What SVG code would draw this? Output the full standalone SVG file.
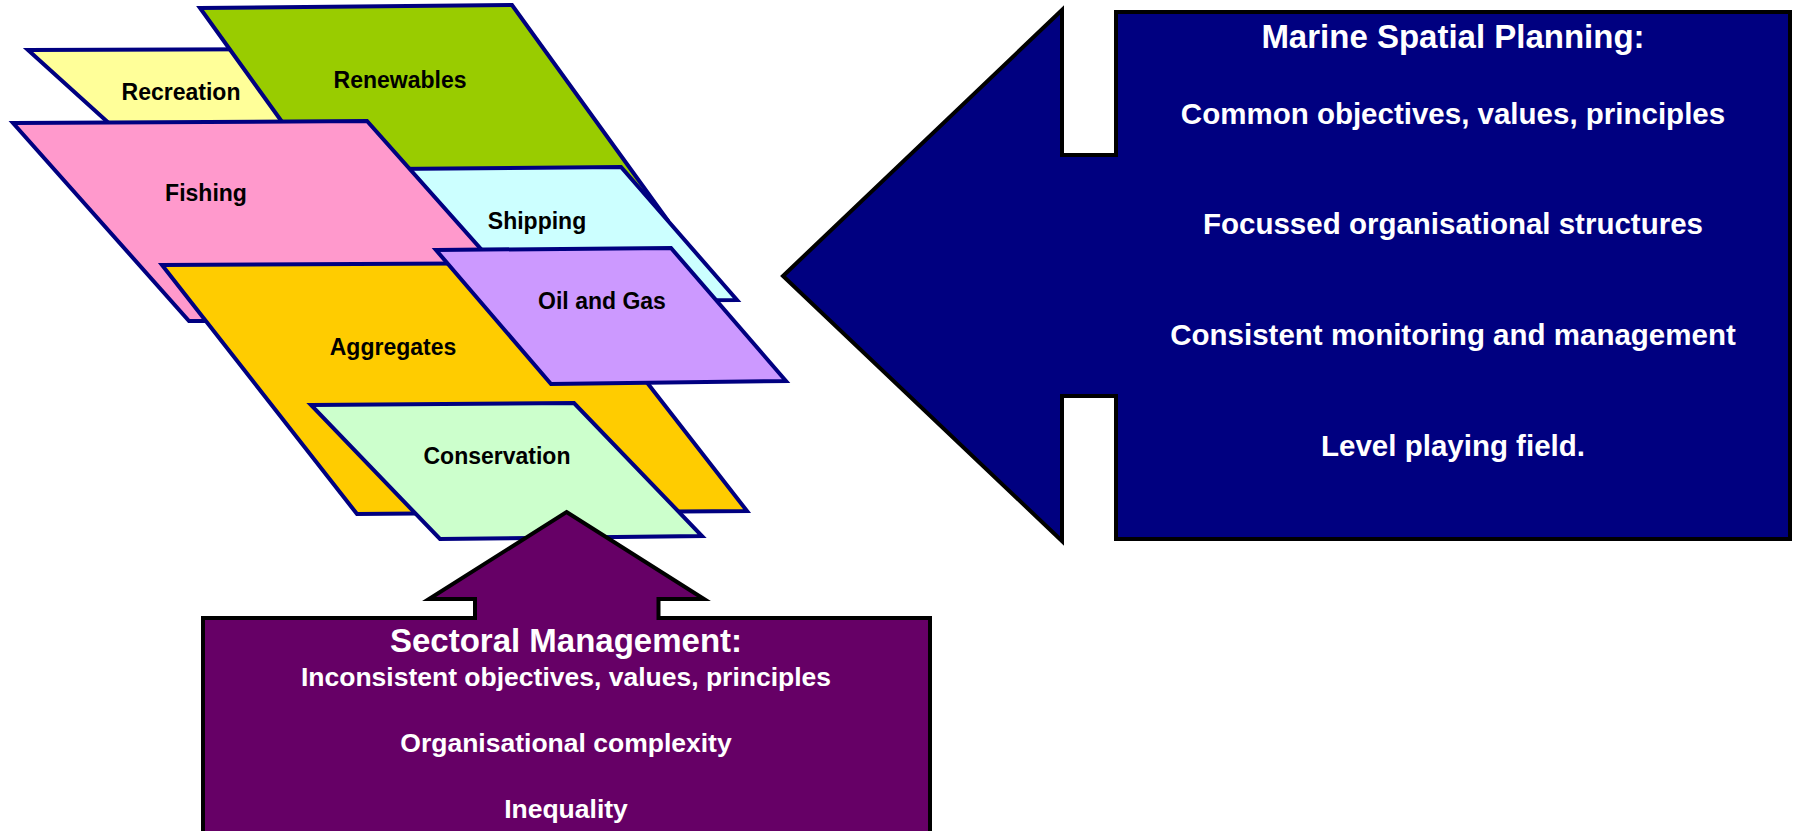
<svg xmlns="http://www.w3.org/2000/svg" width="1795" height="831" viewBox="0 0 1795 831">
<style>
.p{stroke:#000080;stroke-width:4;stroke-linejoin:miter}
.a{stroke:#000000;stroke-width:4;stroke-linejoin:miter}
.lb{font-family:"Liberation Sans",Arial,sans-serif;font-weight:bold;font-size:23px;fill:#000;text-anchor:middle}
.t{font-family:"Liberation Sans",Arial,sans-serif;font-weight:bold;fill:#fff;text-anchor:middle}
</style>
<rect width="1795" height="831" fill="#ffffff"/>
<g id="recreation"><polygon class="p" fill="#FFFF99" points="28,50 290,49 365,126 112,126"/><text class="lb" x="181" y="100">Recreation</text></g>
<g id="renewables"><polygon class="p" fill="#99CC00" points="200,8 512,5 666,218 352,219"/><text class="lb" x="400" y="88">Renewables</text></g>
<g id="shipping"><polygon class="p" fill="#CCFFFF" points="390,169 621,167 737,300 505,301"/><text class="lb" x="537" y="229">Shipping</text></g>
<g id="fishing"><polygon class="p" fill="#FF99CC" points="13,123 367,121 545,321 189,321"/><text class="lb" x="206" y="201">Fishing</text></g>
<g id="aggregates"><polygon class="p" fill="#FFCC00" points="162,265 554,263 747,511 357,514"/><text class="lb" x="393" y="355">Aggregates</text></g>
<g id="oilgas"><polygon class="p" fill="#CC99FF" points="436,250 671,248 786,381 551,384"/><text class="lb" x="602" y="309">Oil and Gas</text></g>
<g id="conservation"><polygon class="p" fill="#CCFFCC" points="311,405 574,403 702,536 440,539"/><text class="lb" x="497" y="464">Conservation</text></g>
<g id="msp">
<path class="a" fill="#000080" d="M1116,12 L1790,12 L1790,539 L1116,539 L1116,396 L1062,396 L1062,541 L783,276 L1062,10 L1062,155 L1116,155 Z"/>
<text class="t" x="1453" y="48" font-size="33">Marine Spatial Planning:</text>
<text class="t" x="1453" y="124" font-size="29.5">Common objectives, values, principles</text>
<text class="t" x="1453" y="234" font-size="29.5">Focussed organisational structures</text>
<text class="t" x="1453" y="345" font-size="29.5">Consistent monitoring and management</text>
<text class="t" x="1453" y="456" font-size="29.5">Level playing field.</text>
</g>
<g id="sectoral">
<path class="a" fill="#660066" d="M566.5,512 L704,599 L658.5,599 L658.5,618 L930,618 L930,840 L203,840 L203,618 L475,618 L475,599 L429,599 Z"/>
<text class="t" x="566" y="652" font-size="33">Sectoral Management:</text>
<text class="t" x="566" y="686" font-size="26.5">Inconsistent objectives, values, principles</text>
<text class="t" x="566" y="752" font-size="26.5">Organisational complexity</text>
<text class="t" x="566" y="818" font-size="26.5">Inequality</text>
</g>
<g id="connectors"></g>
</svg>
